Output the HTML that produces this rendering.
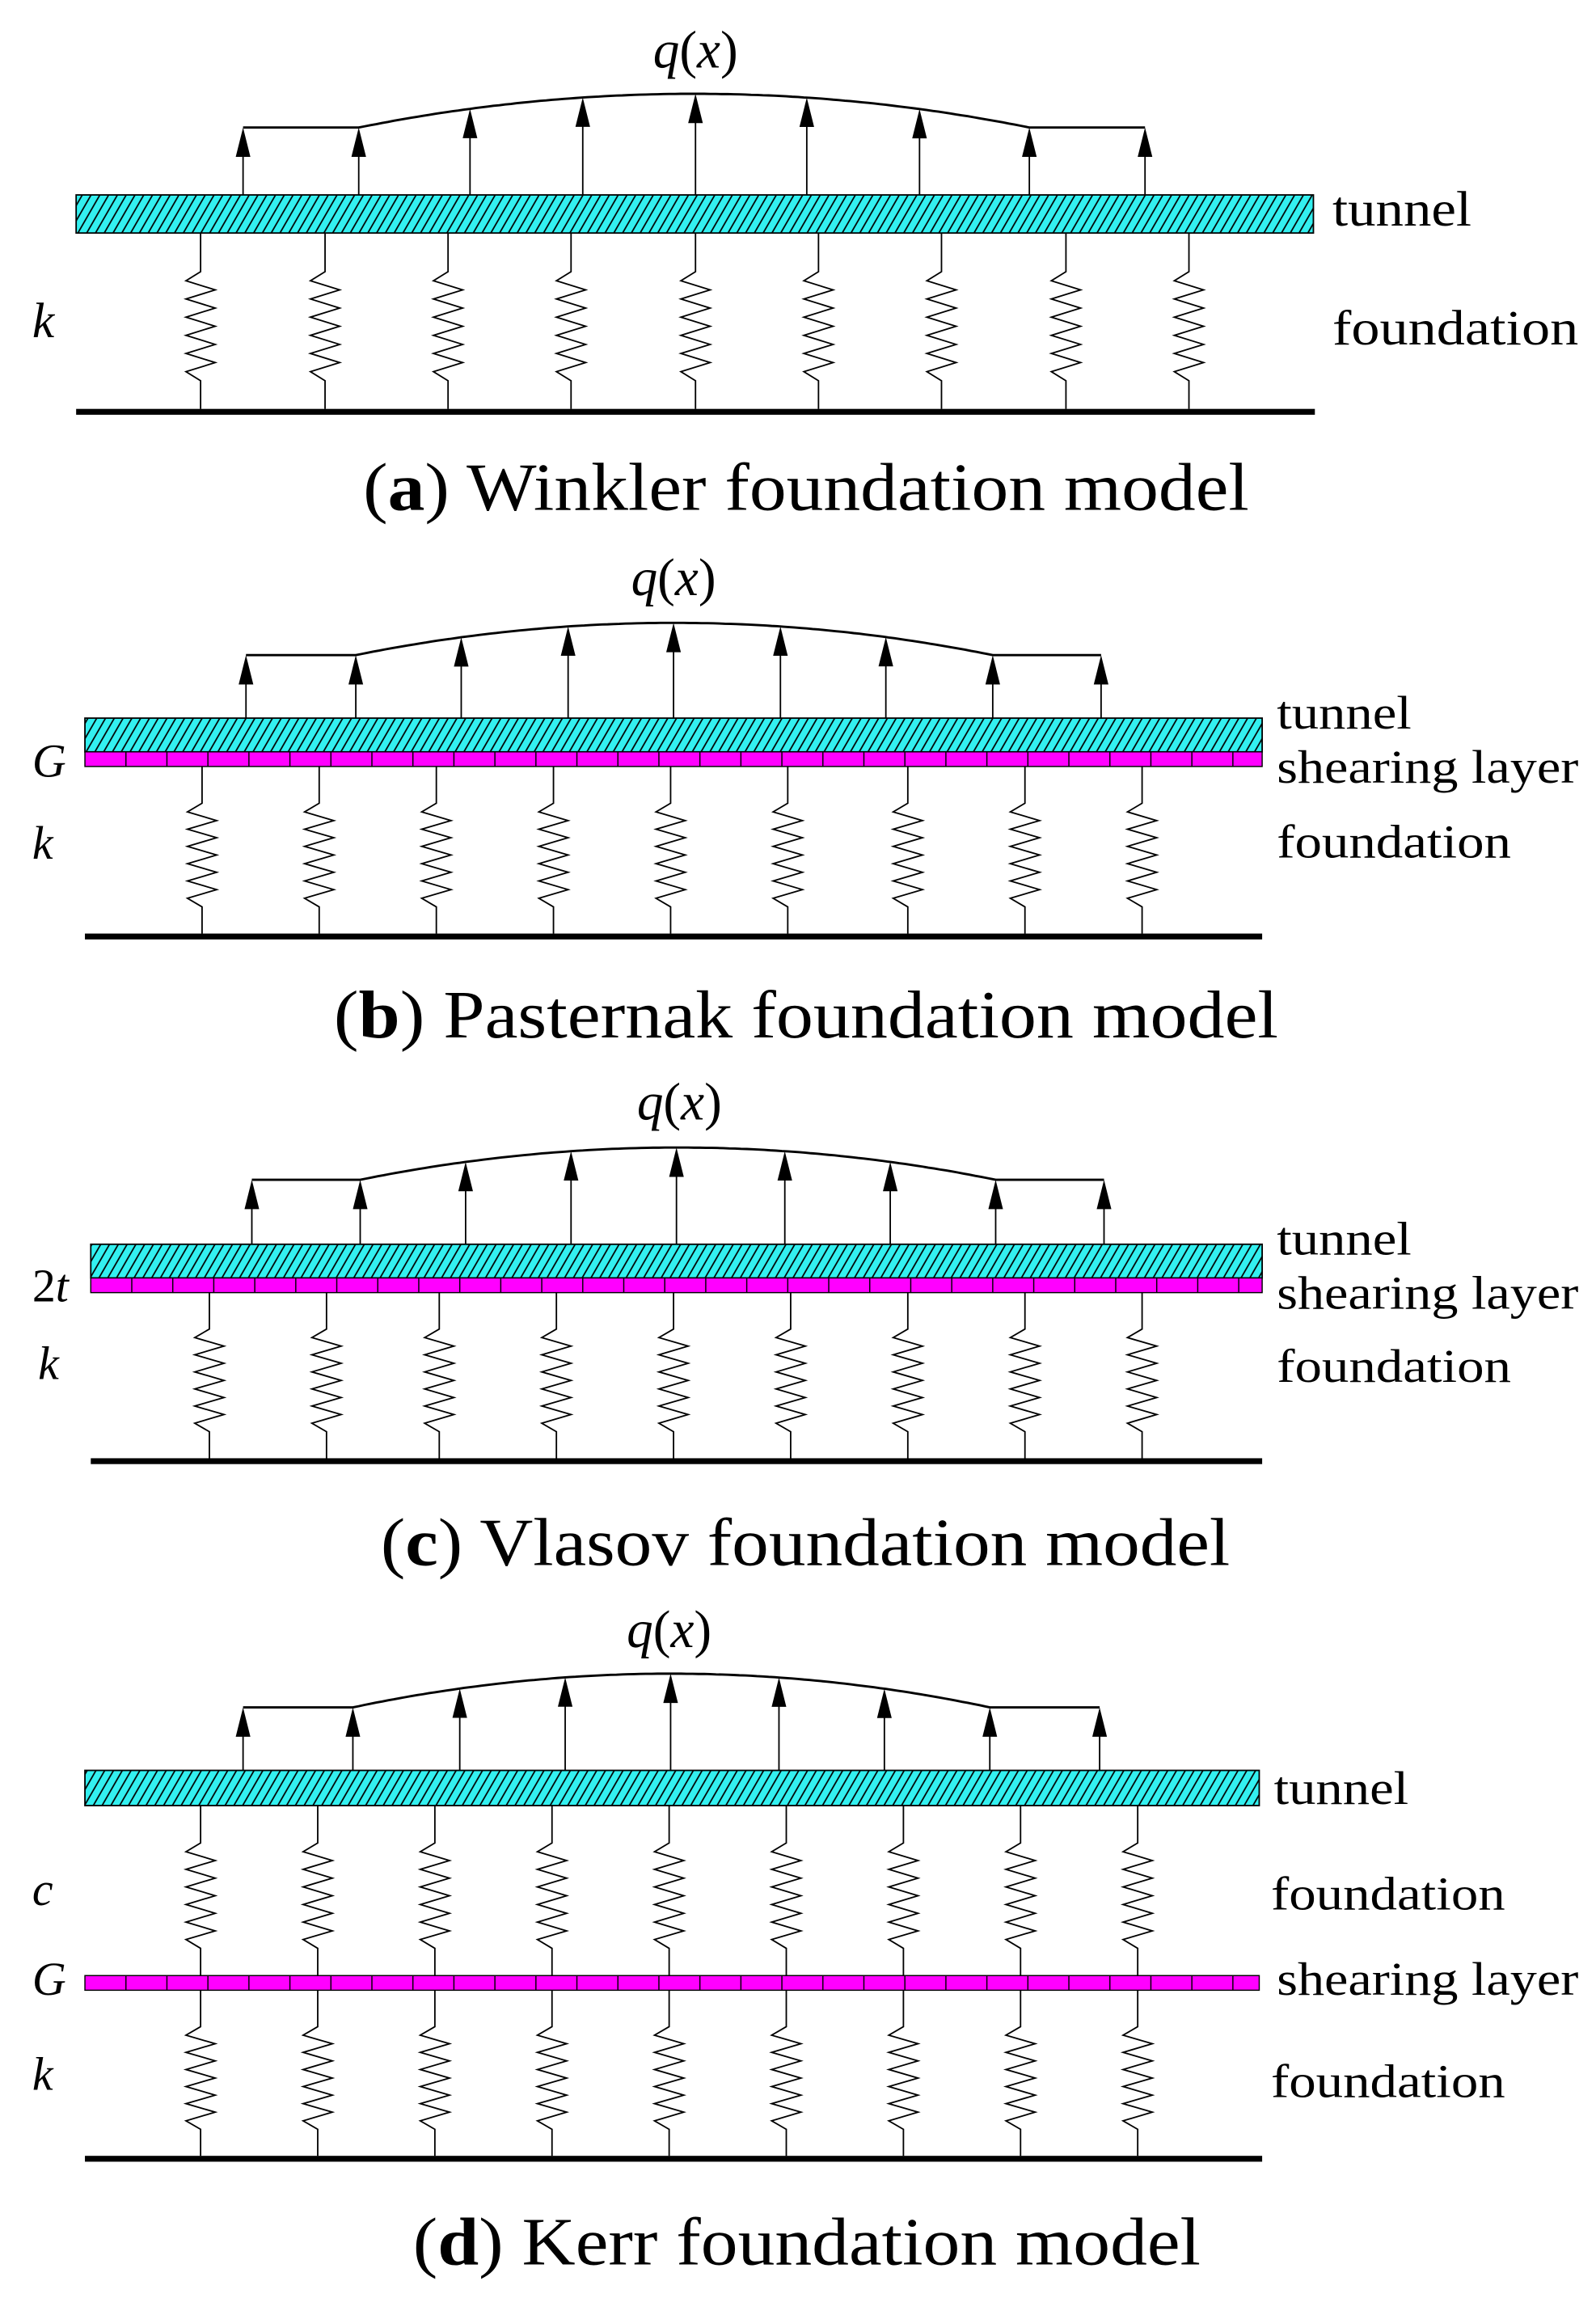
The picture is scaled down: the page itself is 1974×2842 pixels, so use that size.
<!DOCTYPE html>
<html><head><meta charset="utf-8"><style>
html,body{margin:0;padding:0;background:#fff;}
svg{display:block;}
text{font-family:"Liberation Serif",serif;fill:#000;}
</style></head><body>
<svg id="s" width="1974" height="2842" viewBox="0 0 1090 1568" preserveAspectRatio="none" xmlns="http://www.w3.org/2000/svg">
<defs>
<pattern id="h" width="6" height="6" patternUnits="userSpaceOnUse" patternTransform="skewX(-30)">
<rect width="6" height="6" fill="#33f0f0"/><line x1="1" y1="0" x2="1" y2="6" stroke="#000" stroke-width="1.1"/>
</pattern>
</defs>
<g id="g"></g>
<!-- (a) -->
<text x="475" y="46" font-size="36" font-style="italic" text-anchor="middle">q<tspan font-style="normal">(</tspan>x<tspan font-style="normal">)</tspan></text>
<text x="910" y="154" font-size="34" textLength="95" lengthAdjust="spacingAndGlyphs">tunnel</text>
<text x="910" y="235" font-size="34" textLength="168" lengthAdjust="spacingAndGlyphs">foundation</text>
<text x="22" y="230" font-size="34" font-style="italic">k</text>
<text x="248" y="348" font-size="46" textLength="605" lengthAdjust="spacingAndGlyphs">(<tspan font-weight="bold">a</tspan>) Winkler foundation model</text>
<!-- (b) -->
<text x="460" y="406" font-size="36" font-style="italic" text-anchor="middle">q<tspan font-style="normal">(</tspan>x<tspan font-style="normal">)</tspan></text>
<text x="872" y="497" font-size="32" textLength="92" lengthAdjust="spacingAndGlyphs">tunnel</text>
<text x="872" y="534" font-size="32" textLength="206" lengthAdjust="spacingAndGlyphs">shearing layer</text>
<text x="872" y="585" font-size="32" textLength="160" lengthAdjust="spacingAndGlyphs">foundation</text>
<text x="22" y="530" font-size="32" font-style="italic">G</text>
<text x="22" y="586" font-size="32" font-style="italic">k</text>
<text x="228" y="708" font-size="46" textLength="645" lengthAdjust="spacingAndGlyphs">(<tspan font-weight="bold">b</tspan>) Pasternak foundation model</text>
<!-- (c) -->
<text x="464" y="764" font-size="36" font-style="italic" text-anchor="middle">q<tspan font-style="normal">(</tspan>x<tspan font-style="normal">)</tspan></text>
<text x="872" y="856" font-size="32" textLength="92" lengthAdjust="spacingAndGlyphs">tunnel</text>
<text x="872" y="893" font-size="32" textLength="206" lengthAdjust="spacingAndGlyphs">shearing layer</text>
<text x="872" y="943" font-size="32" textLength="160" lengthAdjust="spacingAndGlyphs">foundation</text>
<text x="22" y="888" font-size="32">2<tspan font-style="italic">t</tspan></text>
<text x="26" y="941" font-size="32" font-style="italic">k</text>
<text x="260" y="1068" font-size="46" textLength="580" lengthAdjust="spacingAndGlyphs">(<tspan font-weight="bold">c</tspan>) Vlasov foundation model</text>
<!-- (d) -->
<text x="457" y="1124" font-size="36" font-style="italic" text-anchor="middle">q<tspan font-style="normal">(</tspan>x<tspan font-style="normal">)</tspan></text>
<text x="870" y="1231" font-size="32" textLength="92" lengthAdjust="spacingAndGlyphs">tunnel</text>
<text x="868" y="1303" font-size="32" textLength="160" lengthAdjust="spacingAndGlyphs">foundation</text>
<text x="872" y="1361" font-size="32" textLength="206" lengthAdjust="spacingAndGlyphs">shearing layer</text>
<text x="868" y="1431" font-size="32" textLength="160" lengthAdjust="spacingAndGlyphs">foundation</text>
<text x="22" y="1300" font-size="32" font-style="italic">c</text>
<text x="22" y="1361" font-size="32" font-style="italic">G</text>
<text x="22" y="1426" font-size="32" font-style="italic">k</text>
<text x="282" y="1545" font-size="46" textLength="538" lengthAdjust="spacingAndGlyphs">(<tspan font-weight="bold">d</tspan>) Kerr foundation model</text>
</svg>
<script>
var NS="http://www.w3.org/2000/svg",G=document.getElementById("g");
function el(t,a){var e=document.createElementNS(NS,t);for(var k in a)e.setAttribute(k,a[k]);G.appendChild(e);return e;}
function spring(x,y1,y2){
  var h=y2-y1,z1=y1+h*0.22,z2=y2-h*0.16,n=12,d="M"+x+" "+y1+" L"+x+" "+z1;
  for(var i=1;i<=n;i++){var yy=z1+(z2-z1)*i/n;var xx=(i==n)?x:(i%2?x-10:x+10);d+=" L"+xx+" "+yy.toFixed(1);}
  d+=" L"+x+" "+y2;
  el("path",{d:d,fill:"none",stroke:"#000","stroke-width":"1"});
}
function load(xs,flat,peak,base){
  var a=xs[1],b=xs[7],m=(a+b)/2,hw=(b-a)/2;
  function yAt(x){if(x<=a||x>=b)return flat;var t=(x-m)/hw;return peak+(flat-peak)*t*t;}
  var d="M"+xs[0]+" "+flat+" L"+a+" "+flat;
  for(var x=a;x<=b;x+=4)d+=" L"+x+" "+yAt(x).toFixed(1);
  d+=" L"+b+" "+flat+" L"+xs[8]+" "+flat;
  el("path",{d:d,fill:"none",stroke:"#000","stroke-width":"1.6"});
  xs.forEach(function(x){var y=yAt(x);
    el("line",{x1:x,y1:base,x2:x,y2:y+12,stroke:"#000","stroke-width":"1"});
    el("polygon",{points:(x-5)+","+(y+20)+" "+(x+5)+","+(y+20)+" "+x+","+y,fill:"#000"});
  });
}
function tunnel(x1,x2,y1,y2){el("rect",{x:x1,y:y1,width:x2-x1,height:y2-y1,fill:"url(#h)",stroke:"#000","stroke-width":"1"});}
function shear(x1,x2,y1,y2){el("rect",{x:x1,y:y1,width:x2-x1,height:y2-y1,fill:"#ff00ff",stroke:"#000","stroke-width":"0.8"});
  for(var x=x1+28;x<x2;x+=28)el("line",{x1:x,y1:y1,x2:x,y2:y2,stroke:"#000","stroke-width":"0.8"});}
function ground(x1,x2,y){el("rect",{x:x1,y:y-2,width:x2-x1,height:4,fill:"#000"});}
load([166,245,321,398,475,551,628,703,782],87,64,133);
tunnel(52,897,133,159);
[137,222,306,390,475,559,643,728,812].forEach(function(x){spring(x,159,279);});
ground(52,898,281);
load([168,243,315,388,460,533,605,678,752],447,425,490);
tunnel(58,862,490,513);shear(58,862,513,523);
[138,218,298,378,458,538,620,700,780].forEach(function(x){spring(x,523,637);});
ground(58,862,639);
load([172,246,318,390,462,536,608,680,754],805,783,849);
tunnel(62,862,849,872);shear(62,862,872,882);
[143,223,300,380,460,540,620,700,780].forEach(function(x){spring(x,882,995);});
ground(62,862,997);
load([166,241,314,386,458,532,604,676,751],1165,1142,1208);
tunnel(58,860,1208,1232);
[137,217,297,377,457,537,617,697,777].forEach(function(x){spring(x,1232,1348);spring(x,1358,1471);});
shear(58,860,1348,1358);
ground(58,862,1473);
</script>
</body></html>
